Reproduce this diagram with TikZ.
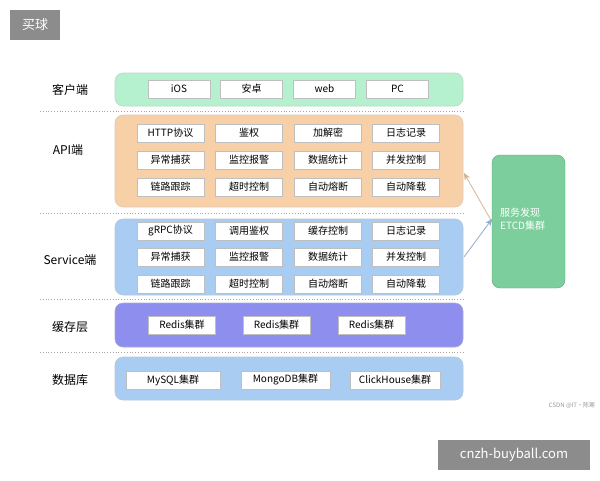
\documentclass[tikz,border=0pt]{standalone}
\usepackage{fontspec}
\setmainfont{Noto Sans CJK SC}
\usetikzlibrary{arrows.meta}
\definecolor{cg}{HTML}{B5F0CF}
\definecolor{co}{HTML}{F8D0A8}
\definecolor{cb}{HTML}{A8CCF2}
\definecolor{cp}{HTML}{8E8EEE}
\definecolor{ce}{HTML}{7CCF9C}
\begin{document}
\begin{tikzpicture}[x=1pt,y=-1pt,
 panel/.style={draw=#1!80!black!60, fill=#1, rounded corners=8pt, line width=0.6pt},
 item/.style={draw=black!25, fill=white, minimum height=18pt, inner sep=0pt, font=\fontsize{10}{12}\selectfont},
 lab/.style={font=\fontsize{12}{14}\selectfont},
 sep/.style={draw=black!35, dotted, line width=0.8pt}]
\useasboundingbox (0,0) rectangle (600,480);
\fill[white] (0,0) rectangle (600,480);
% watermarks
\node[fill=black!45, text=white, minimum width=50pt, minimum height=30pt, font=\fontsize{13}{15}\selectfont] (wm1) at (35,25) {买球};
\node[fill=black!45, text=white, minimum width=152pt, minimum height=30pt, font=\fontsize{13}{15}\selectfont] (wm2) at (514,455) {cnzh-buyball.com};
\node[text=black!40, font=\fontsize{6}{7}\selectfont] (csdn) at (572,405) {CSDN @IT·陈寒};
% separators
\foreach \y in {111,213,299,352} \draw[sep] (40,\y) -- (465,\y);
% panels
\draw[panel=cg] (115,73) rectangle (463,106);
\draw[panel=co] (115,115) rectangle (463,207);
\draw[panel=cb] (115,219) rectangle (463,295);
\draw[panel=cp] (115,303) rectangle (463,347);
\draw[panel=cb] (115,357) rectangle (463,400);
% labels
\node[lab] (l1) at (70,90) {客户端};
\node[lab] (l2) at (68,150) {API端};
\node[lab] (l3) at (70,260) {Service端};
\node[lab] (l4) at (70,327) {缓存层};
\node[lab] (l5) at (70,380) {数据库};
% client
\foreach \t/\x [count=\i] in {iOS/179,安卓/251.5,web/324.5,PC/397.5}
  \node[item, minimum width=62pt] (c\i) at (\x,89) {\t};
% API
\foreach \r/\y/\a/\b/\c/\d in {1/133/HTTP协议/鉴权/加解密/日志记录, 2/160/异常捕获/监控报警/数据统计/并发控制, 3/187/链路跟踪/超时控制/自动熔断/自动降载}{
  \node[item, minimum width=67pt] (a\r1) at (170.5,\y) {\a};
  \node[item, minimum width=67pt] (a\r2) at (249,\y) {\b};
  \node[item, minimum width=67pt] (a\r3) at (328,\y) {\c};
  \node[item, minimum width=67pt] (a\r4) at (406,\y) {\d};
}
% Service
\foreach \r/\y/\a/\b/\c/\d in {1/231/gRPC协议/调用鉴权/缓存控制/日志记录, 2/257/异常捕获/监控报警/数据统计/并发控制, 3/284/链路跟踪/超时控制/自动熔断/自动降载}{
  \node[item, minimum width=67pt] (s\r1) at (170.5,\y) {\a};
  \node[item, minimum width=67pt] (s\r2) at (249,\y) {\b};
  \node[item, minimum width=67pt] (s\r3) at (328,\y) {\c};
  \node[item, minimum width=67pt] (s\r4) at (406,\y) {\d};
}
% cache
\foreach \x [count=\i] in {182,276.5,371.5}
  \node[item, minimum width=67pt] (r\i) at (\x,325) {Redis集群};
% db
\node[item, minimum width=94pt] (d1) at (173,380) {MySQL集群};
\node[item, minimum width=89pt] (d2) at (285.5,380) {MongoDB集群};
\node[item, minimum width=90pt] (d3) at (395,380) {ClickHouse集群};
% etcd
\draw[fill=ce, draw=ce!80!black, rounded corners=8pt] (492,155) rectangle (565,288);
\coordinate (etcd) at (492,222);
\node[text=white, align=left, anchor=north west, inner sep=0pt, font=\fontsize{10}{13}\selectfont] (et) at (500,208) {服务发现\\ETCD集群};
\coordinate (apiR) at (464,173);
\coordinate (svcR) at (464,257);
\coordinate (etA) at (492,219);
\draw[-{Stealth[length=7pt,width=6pt]}, draw=co!85!black, line width=0.8pt] (etcd) -- (apiR);
\draw[-{Stealth[length=7pt,width=6pt]}, draw=cb!85!black, line width=0.8pt] (svcR) -- (etA);
\end{tikzpicture}
\end{document}
